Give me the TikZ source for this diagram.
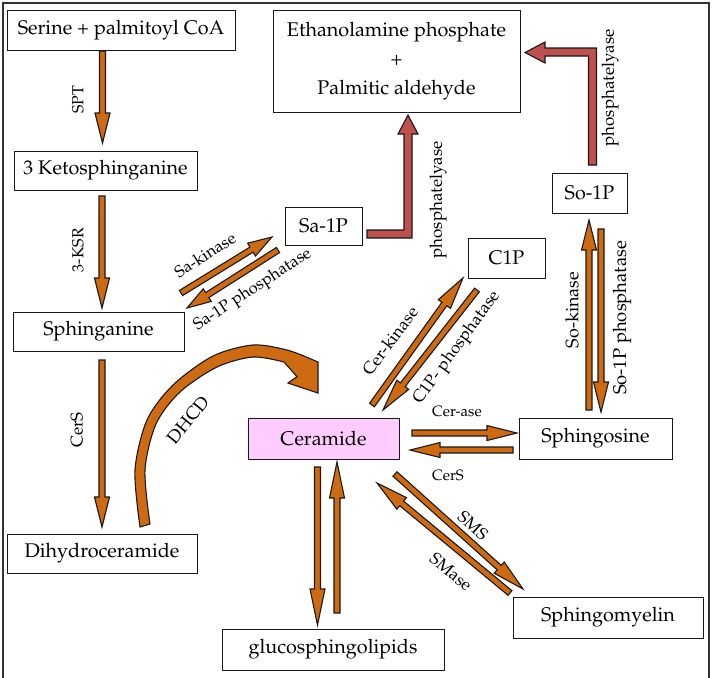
\documentclass[tikz,border=0pt]{standalone}
\usepackage[T1]{fontenc}
\usepackage{mathpazo}
\usetikzlibrary{calc}
\definecolor{orr}{RGB}{206,106,18}
\definecolor{redb}{RGB}{190,80,78}
\definecolor{pinkc}{RGB}{255,204,255}
\definecolor{outl}{RGB}{25,25,25}
\newcommand{\fs}[1]{\fontsize{#1}{#1}\selectfont}
\begin{document}
\begin{tikzpicture}[x=1pt,y=-1pt,
  box/.style={draw=outl, line width=0.9pt, fill=white, inner sep=0pt, font=\fs{19.8}, text=black},
  lab/.style={inner sep=0pt, text=black},
  headlen/.store in=\arrhl, headlen=30,
  blk/.style={draw=outl, line width=1.1pt, fill=orr, line join=miter, miter limit=20,
    to path={let \p1=(\tikztostart), \p2=(\tikztotarget), \n1={veclen(\x2-\x1,\y2-\y1)-\arrhl} in
      ($(\p1)!3pt!90:(\p2)$) -- ($(\p1)!\n1!(\p2)!3pt!90:(\p2)$) -- ($(\p1)!\n1!(\p2)!7.5pt!90:(\p2)$)
      -- (\p2) -- ($(\p1)!\n1!(\p2)!7.5pt!-90:(\p2)$) -- ($(\p1)!\n1!(\p2)!3pt!-90:(\p2)$)
      -- ($(\p1)!3pt!-90:(\p2)$) -- cycle}},
  redarrow/.style={draw=outl, line width=1.1pt, fill=redb, line join=miter}
]
\useasboundingbox (0,0) rectangle (713,678);
\fill[white] (0,0) rectangle (713,678);
\draw[line width=2.4pt, black!80] (3,678) -- (3,3) -- (709,3) -- (709,678);

% nodes
\node[box, minimum width=228pt, minimum height=40pt] (serine) at (121,30) {Serine + palmitoyl CoA};
\node[box, minimum width=183pt, minimum height=39pt] (keto) at (105.5,170.5) {3 Ketosphinganine};
\node[box, minimum width=247pt, minimum height=102pt, align=center, font=\fontsize{19.8}{29}\selectfont] (ethan) at (396.5,61) {Ethanolamine phosphate\\+\\Palmitic aldehyde};
\node[box, minimum width=75pt, minimum height=40pt] (so1p) at (589.5,193) {So-1P};
\node[box, minimum width=77pt, minimum height=38pt] (sa1p) at (323.5,226) {Sa-1P};
\node[box, minimum width=77pt, minimum height=40pt] (c1p) at (506.5,258) {C1P};
\node[box, minimum width=171pt, minimum height=39pt] (sphinganine) at (98.5,331.5) {Sphinganine};
\node[box, minimum width=190pt, minimum height=39pt] (dihydro) at (102,553.5) {Dihydroceramide};
\node[box, fill=pinkc, minimum width=151pt, minimum height=41pt] (ceramide) at (323.5,438.5) {Ceramide};
\node[box, minimum width=153pt, minimum height=41pt] (sphingosine) at (595.5,438.5) {Sphingosine};
\node[box, minimum width=190pt, minimum height=41pt] (sphingomyelin) at (608,617.5) {Sphingomyelin};
\node[box, minimum width=222pt, minimum height=41pt] (gluco) at (333,649.5) {glucosphingolipids};

% arrow end points
\coordinate (a1s) at (102.5,51);  \coordinate (a1e) at (102.5,143);
\coordinate (a2s) at (102,196);   \coordinate (a2e) at (102,308);
\coordinate (a3s) at (102,360);   \coordinate (a3e) at (102,527);
\coordinate (a4s) at (181,293);   \coordinate (a4e) at (272,237);
\coordinate (a5s) at (278,250);   \coordinate (a5e) at (187,308);
\coordinate (a8s) at (589,410);   \coordinate (a8e) at (589,220);
\coordinate (a9s) at (601,229);   \coordinate (a9e) at (601,412);
\coordinate (a10s) at (372,405);  \coordinate (a10e) at (463,278);
\coordinate (a11s) at (477,290);  \coordinate (a11e) at (383,410);
\coordinate (a12s) at (412,433);  \coordinate (a12e) at (517,433);
\coordinate (a13s) at (513,450);  \coordinate (a13e) at (410,450);
\coordinate (a14s) at (395,474);  \coordinate (a14e) at (523,589);
\coordinate (a15s) at (510,593);  \coordinate (a15e) at (377,483);
\coordinate (a16s) at (317.5,467);\coordinate (a16e) at (317.5,625);
\coordinate (a17s) at (337,613);  \coordinate (a17e) at (337,462);

% orange block arrows
\draw[blk] (a1s) to (a1e);
\draw[blk] (a2s) to (a2e);
\draw[blk] (a3s) to (a3e);
\draw[blk, headlen=24] (a4s) to (a4e);
\draw[blk, headlen=24] (a5s) to (a5e);
\draw[blk] (a8s) to (a8e);
\draw[blk] (a9s) to (a9e);
\draw[blk, headlen=32] (a10s) to (a10e);
\draw[blk, headlen=32] (a11s) to (a11e);
\draw[blk] (a12s) to (a12e);
\draw[blk] (a13s) to (a13e);
\draw[blk, headlen=32] (a14s) to (a14e);
\draw[blk, headlen=32] (a15s) to (a15e);
\draw[blk, headlen=36] (a16s) to (a16e);
\draw[blk, headlen=36] (a17s) to (a17e);

% red L-shaped arrows
\draw[redarrow] (367,230) -- (404,230) -- (404,134) -- (398,134) -- (408,115) -- (418,134)
  -- (412,134) -- (412,238) -- (367,238) -- cycle;
\draw[redarrow] (588.5,165) -- (596.5,165) -- (596.5,48) -- (545,48) -- (545,42) -- (525,52.5)
  -- (545,63) -- (545,56) -- (588.5,56) -- cycle;

% curved DHCD arrow
\draw[draw=outl, line width=1.1pt, fill=orr, line join=miter]
  plot[smooth, tension=0.5] coordinates {(140,527) (135,470) (147,420) (173,385) (213,356) (253,345) (287,350) (311,359)}
  -- (318,362) -- (318,393) -- (288,383) -- (297,376.7)
  -- plot[smooth, tension=0.5] coordinates {(284,362) (253,357) (217,367) (180,392) (156,424) (145,470) (150,524)}
  -- cycle;

% labels
\node[lab, rotate=90, font=\fs{16}] (lspt) at (78,100) {SPT};
\node[lab, rotate=90, font=\fs{16}] (lksr) at (78,250) {3-KSR};
\node[lab, rotate=90, font=\fs{17}] (lcers1) at (77,430) {CerS};
\node[lab, rotate=51, font=\fs{18}] (ldhcd) at (188,420) {DHCD};
\node[lab, rotate=33, font=\fs{16.5}] (lsak) at (205,255) {Sa-kinase};
\node[lab, rotate=33, font=\fs{16.5}] (lsap) at (253,290) {Sa-1P phosphatase};
\node[lab, rotate=90, font=\fs{17}] (lpl1) at (438,200) {phosphatelyase};
\node[lab, rotate=90, font=\fs{17}] (lpl2) at (610,88) {phosphatelyase};
\node[lab, rotate=90, font=\fs{18}] (lsok) at (572,310) {So-kinase};
\node[lab, rotate=90, font=\fs{18.5}] (lsop) at (622,318) {So-1P phosphatase};
\node[lab, rotate=53, font=\fs{17}] (lcerk) at (390,341) {Cer-kinase};
\node[lab, rotate=54, font=\fs{17}] (lc1pp) at (457,348) {C1P- phosphatase};
\node[lab, font=\fs{15}] (lcerase) at (457,411) {Cer-ase};
\node[lab, font=\fs{15}] (lcers2) at (448,475) {CerS};
\node[lab, rotate=-42, font=\fs{17}] (lsms) at (473,526) {SMS};
\node[lab, rotate=-40, font=\fs{17}] (lsmase) at (451,572) {SMase};
\end{tikzpicture}
\end{document}
